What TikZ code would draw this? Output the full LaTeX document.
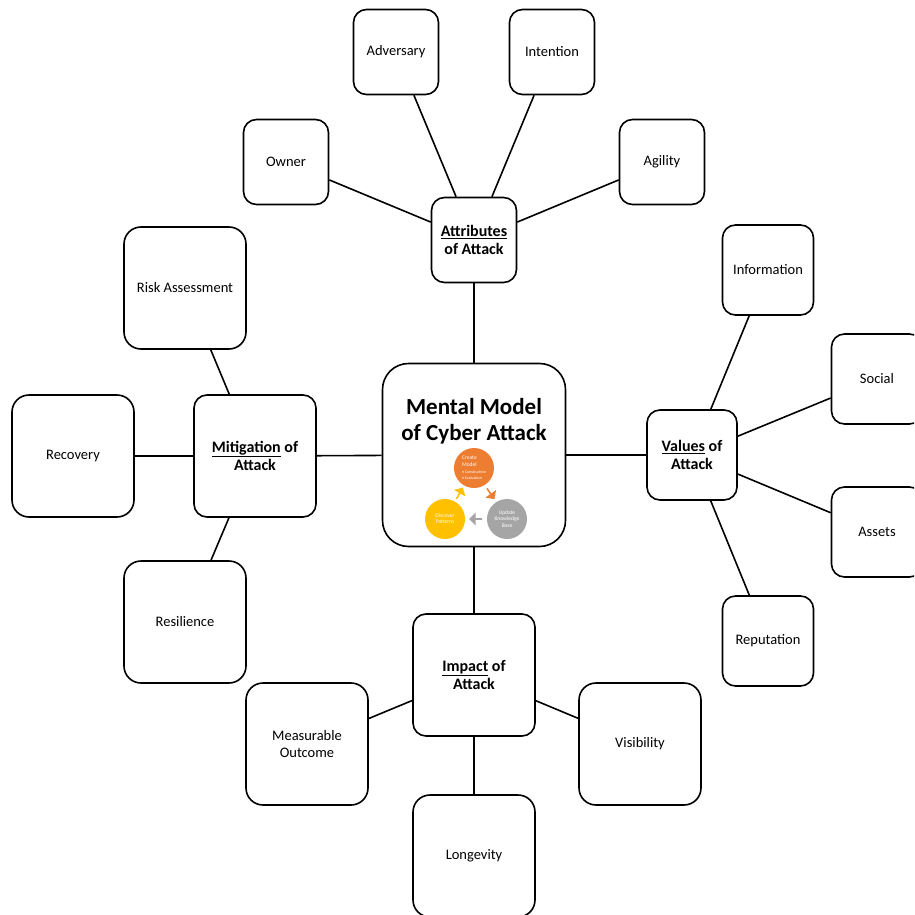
\documentclass[tikz,border=0pt]{standalone}
\usepackage{fontspec}
\setmainfont{Carlito}
\usetikzlibrary{shapes.arrows,calc}

\definecolor{cmorange}{HTML}{ED7D31}
\definecolor{cmyellow}{HTML}{FFC000}
\definecolor{cmgray}{HTML}{A5A5A5}

\tikzset{
  leaf/.style 2 args={draw, line width=1.6pt, rounded corners=13pt, minimum width=#1, minimum height=#2,
    inner sep=2pt, align=center, font=\fontsize{14.5}{16.5}\selectfont},
  hub/.style={leaf={#1}{#1}, font=\fontsize{16}{18.5}\selectfont\bfseries},
  link/.style={line width=1.6pt},
  stage/.style={circle, fill=#1, minimum size=40pt, inner sep=1pt, text=white, align=left,
    font=\fontsize{5.5}{6.2}\selectfont},
  turn/.style={single arrow, fill=#1, minimum height=13pt, minimum width=13pt, inner sep=0pt,
    single arrow head extend=1.5pt}
}

\begin{document}
\begin{tikzpicture}[x=1pt, y=-1pt]
  \clip (0,0) rectangle (914,915);

  % centre
  \node[leaf={183}{183}, rounded corners=26pt] (mental) at (474,455) {};
  \node[font=\fontsize{23}{26}\selectfont\bfseries, align=center] (title) at (474,421) {Mental Model\\of Cyber Attack};
  \node[stage=cmorange] (create) at (474,468) {Create\\Model\\[1pt]{\fontsize{4}{4.8}\selectfont\textbullet\ Construction}\\{\fontsize{4}{4.8}\selectfont\textbullet\ Evaluation}};
  \node[stage=cmyellow, align=center] (discover) at (445,519) {Discover\\Patterns};
  \node[stage=cmgray, align=center] (update) at (507,519) {Update\\Knowledge\\Base};
  \node[turn=cmorange, rotate=-55] (turnA) at ($(create)!0.5!(update)$) {};
  \node[turn=cmgray, rotate=180] (turnB) at ($(update)!0.5!(discover)$) {};
  \node[turn=cmyellow, rotate=60] (turnC) at ($(discover)!0.5!(create)$) {};

  % hubs
  \node[hub=85] (attr) at (474,240) {\underline{Attributes}\\of Attack};
  \node[hub=90] (values) at (692,455) {\underline{Values} of\\Attack};
  \node[hub=122] (mitig) at (255,456) {\underline{Mitigation} of\\Attack};
  \node[hub=122] (impact) at (474,675) {\underline{Impact} of\\Attack};

  % attributes
  \node[leaf={85}{85}] (adversary) at (396,52) {Adversary};
  \node[leaf={85}{85}] (intention) at (552,52) {Intention};
  \node[leaf={85}{85}] (owner) at (286,162) {Owner};
  \node[leaf={85}{85}] (agility) at (662,162) {Agility};

  % values
  \node[leaf={91}{90}] (information) at (768,270) {Information};
  \node[leaf={91}{90}] (social) at (877,379) {Social};
  \node[leaf={91}{90}] (assets) at (877,532) {Assets};
  \node[leaf={91}{90}] (reputation) at (768,641) {Reputation};

  % mitigation
  \node[leaf={122}{122}, rounded corners=17pt] (risk) at (185,288) {Risk Assessment};
  \node[leaf={122}{122}, rounded corners=17pt] (recovery) at (73,456) {Recovery};
  \node[leaf={122}{122}, rounded corners=17pt] (resilience) at (185,622) {Resilience};

  % impact
  \node[leaf={122}{122}, rounded corners=17pt] (measurable) at (307,744) {Measurable\\Outcome};
  \node[leaf={122}{122}, rounded corners=17pt] (visibility) at (640,744) {Visibility};
  \node[leaf={122}{122}, rounded corners=17pt] (longevity) at (474,856) {Longevity};

  \draw[link] (mental) -- (attr);
  \draw[link] (mental) -- (values);
  \draw[link] (mental) -- (mitig);
  \draw[link] (mental) -- (impact);
  \draw[link] (attr) -- (adversary);
  \draw[link] (attr) -- (intention);
  \draw[link] (attr) -- (owner);
  \draw[link] (attr) -- (agility);
  \draw[link] (values) -- (information);
  \draw[link] (values) -- (social);
  \draw[link] (values) -- (assets);
  \draw[link] (values) -- (reputation);
  \draw[link] (mitig) -- (risk);
  \draw[link] (mitig) -- (recovery);
  \draw[link] (mitig) -- (resilience);
  \draw[link] (impact) -- (measurable);
  \draw[link] (impact) -- (visibility);
  \draw[link] (impact) -- (longevity);
\end{tikzpicture}
\end{document}
